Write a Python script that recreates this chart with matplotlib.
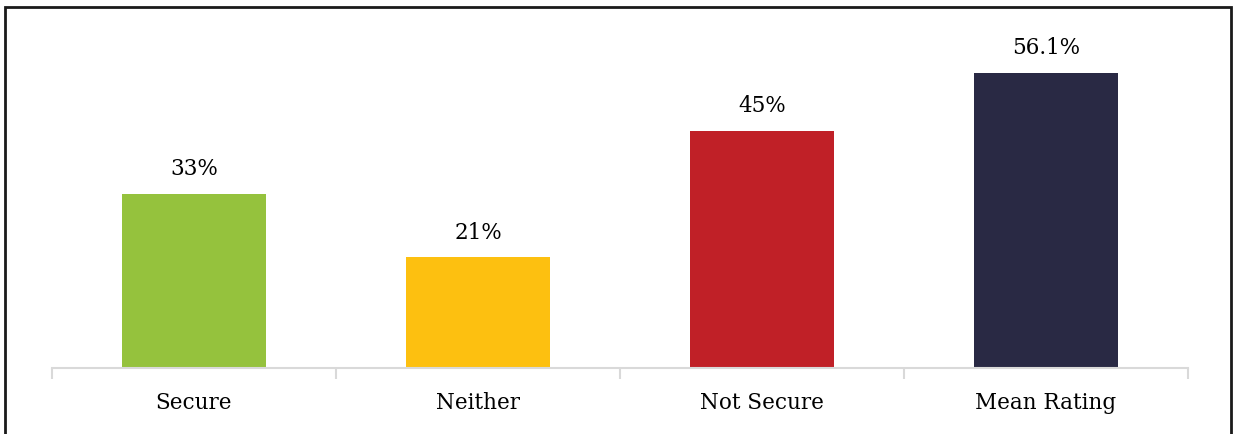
import matplotlib.pyplot as plt
from matplotlib.patches import Rectangle

categories = ['Secure', 'Neither', 'Not Secure', 'Mean Rating']
values = [33, 21, 45, 56.1]
labels = ['33%', '21%', '45%', '56.1%']
colors = ['#95c23d', '#fdc010', '#c02027', '#292944']

plt.rcParams['font.family'] = ['DejaVu Serif']

fig = plt.figure(figsize=(12.35, 4.34), dpi=100)
ax = fig.add_axes([0.0421, 0.152, 0.9198, 0.728])

x = range(len(categories))
bars = ax.bar(x, values, width=0.505, color=colors)

# value labels above each bar
for b, lab in zip(bars, labels):
    ax.annotate(lab, (b.get_x() + b.get_width() / 2, b.get_height()),
                xytext=(0, 10), textcoords='offset points',
                ha='center', va='bottom', fontsize=15.5)

ax.set_xlim(-0.5, len(categories) - 0.5)
ax.set_ylim(0, 60)

for s in ['top', 'right', 'left']:
    ax.spines[s].set_visible(False)
ax.spines['bottom'].set_color('#d9d9d9')
ax.spines['bottom'].set_linewidth(1.5)
ax.set_yticks([])

# category labels centred, tick marks at the boundaries
ax.set_xticks(list(x))
ax.set_xticklabels(categories, fontsize=15.5)
ax.tick_params(axis='x', which='major', length=0, pad=17)
ax.set_xticks([i - 0.5 for i in range(len(categories) + 1)], minor=True)
ax.tick_params(axis='x', which='minor', length=8, width=1.5, color='#d9d9d9')

# outer frame
fig.patches.append(Rectangle((5 / 1235, -0.05), 1226 / 1235, 1.05 - 7 / 434,
                             transform=fig.transFigure, fill=False,
                             edgecolor='#1a1a1a', linewidth=2))

fig.savefig('out.png', dpi=100)
